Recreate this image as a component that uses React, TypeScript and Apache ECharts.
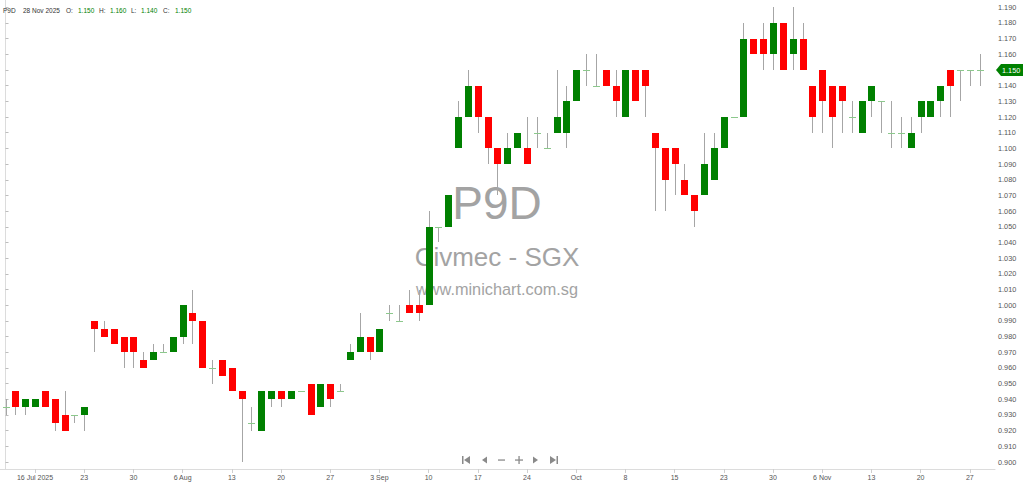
import React, { useEffect, useRef } from "react";
import * as echarts from "echarts";

// Trading days 11 Jul 2025 .. 28 Nov 2025 (SGX)
const dates: string[] = [
  "11 Jul", "14 Jul", "15 Jul", "16 Jul", "17 Jul", "18 Jul", "21 Jul", "22 Jul", "23 Jul", "24 Jul",
  "25 Jul", "28 Jul", "29 Jul", "30 Jul", "31 Jul", "1 Aug", "4 Aug", "5 Aug", "6 Aug", "7 Aug",
  "8 Aug", "11 Aug", "12 Aug", "13 Aug", "14 Aug", "15 Aug", "18 Aug", "19 Aug", "20 Aug", "21 Aug",
  "22 Aug", "25 Aug", "26 Aug", "27 Aug", "28 Aug", "29 Aug", "1 Sep", "2 Sep", "3 Sep", "4 Sep",
  "5 Sep", "8 Sep", "9 Sep", "10 Sep", "11 Sep", "12 Sep", "15 Sep", "16 Sep", "17 Sep", "18 Sep",
  "19 Sep", "22 Sep", "23 Sep", "24 Sep", "25 Sep", "26 Sep", "29 Sep", "30 Sep", "1 Oct", "2 Oct",
  "3 Oct", "6 Oct", "7 Oct", "8 Oct", "9 Oct", "10 Oct", "13 Oct", "14 Oct", "15 Oct", "16 Oct",
  "17 Oct", "21 Oct", "22 Oct", "23 Oct", "24 Oct", "27 Oct", "28 Oct", "29 Oct", "30 Oct", "31 Oct",
  "3 Nov", "4 Nov", "5 Nov", "6 Nov", "7 Nov", "10 Nov", "11 Nov", "12 Nov", "13 Nov", "14 Nov",
  "17 Nov", "18 Nov", "19 Nov", "20 Nov", "21 Nov", "24 Nov", "25 Nov", "26 Nov", "27 Nov", "28 Nov",
];

const opens: number[] = [
  0.935, 0.945, 0.935, 0.935, 0.945, 0.94, 0.93, 0.93, 0.93, 0.99,
  0.985, 0.985, 0.98, 0.98, 0.965, 0.965, 0.97, 0.97, 0.98, 0.995,
  0.99, 0.96, 0.965, 0.96, 0.945, 0.925, 0.92, 0.94, 0.945, 0.94,
  0.945, 0.95, 0.935, 0.95, 0.945, 0.965, 0.97, 0.98, 0.97, 0.995,
  0.99, 1.0, 1.0, 1.0, 1.05, 1.05, 1.1, 1.12, 1.14, 1.12,
  1.1, 1.09, 1.1, 1.1, 1.11, 1.1, 1.11, 1.11, 1.13, 1.15,
  1.14, 1.15, 1.14, 1.12, 1.15, 1.15, 1.11, 1.1, 1.1, 1.08,
  1.07, 1.07, 1.08, 1.1, 1.12, 1.12, 1.17, 1.17, 1.16, 1.18,
  1.16, 1.17, 1.14, 1.15, 1.14, 1.14, 1.12, 1.11, 1.13, 1.13,
  1.11, 1.11, 1.1, 1.12, 1.12, 1.13, 1.15, 1.15, 1.15, 1.15,
];
const closes: number[] = [
  0.935, 0.935, 0.94, 0.94, 0.935, 0.925, 0.92, 0.93, 0.935, 0.985,
  0.98, 0.975, 0.97, 0.97, 0.96, 0.97, 0.97, 0.98, 1.0, 0.99,
  0.96, 0.96, 0.955, 0.945, 0.94, 0.925, 0.945, 0.945, 0.94, 0.945,
  0.945, 0.93, 0.95, 0.94, 0.945, 0.97, 0.98, 0.97, 0.985, 0.995,
  0.99, 0.995, 0.995, 1.05, 1.05, 1.07, 1.12, 1.14, 1.12, 1.1,
  1.09, 1.1, 1.11, 1.09, 1.11, 1.1, 1.12, 1.13, 1.15, 1.15,
  1.14, 1.14, 1.13, 1.15, 1.13, 1.14, 1.1, 1.08, 1.09, 1.07,
  1.06, 1.09, 1.1, 1.12, 1.12, 1.17, 1.16, 1.16, 1.18, 1.15,
  1.17, 1.15, 1.12, 1.13, 1.12, 1.13, 1.12, 1.13, 1.14, 1.13,
  1.11, 1.11, 1.11, 1.13, 1.13, 1.14, 1.14, 1.15, 1.15, 1.15,
];
const lows: number[] = [
  0.93, 0.93, 0.93, 0.935, 0.935, 0.92, 0.92, 0.925, 0.92, 0.97,
  0.98, 0.975, 0.96, 0.96, 0.96, 0.965, 0.97, 0.97, 0.975, 0.975,
  0.96, 0.95, 0.955, 0.945, 0.9, 0.92, 0.92, 0.935, 0.935, 0.94,
  0.945, 0.93, 0.935, 0.935, 0.945, 0.965, 0.97, 0.965, 0.97, 0.99,
  0.99, 0.995, 0.99, 1.0, 1.04, 1.05, 1.1, 1.12, 1.11, 1.09,
  1.07, 1.09, 1.1, 1.09, 1.1, 1.1, 1.11, 1.1, 1.13, 1.14,
  1.14, 1.14, 1.12, 1.12, 1.13, 1.12, 1.06, 1.06, 1.07, 1.07,
  1.05, 1.07, 1.08, 1.1, 1.12, 1.12, 1.16, 1.15, 1.15, 1.15,
  1.15, 1.15, 1.11, 1.11, 1.1, 1.11, 1.11, 1.11, 1.12, 1.11,
  1.1, 1.1, 1.1, 1.11, 1.12, 1.12, 1.12, 1.13, 1.14, 1.14,
];
const highs: number[] = [
  0.94, 0.945, 0.94, 0.94, 0.945, 0.94, 0.945, 0.93, 0.935, 0.99,
  0.99, 0.985, 0.98, 0.98, 0.97, 0.975, 0.975, 0.98, 1.0, 1.01,
  0.99, 0.965, 0.965, 0.96, 0.945, 0.935, 0.945, 0.945, 0.945, 0.945,
  0.945, 0.95, 0.95, 0.95, 0.95, 0.975, 0.995, 0.98, 0.985, 1.0,
  1.0, 1.01, 1.01, 1.06, 1.05, 1.07, 1.13, 1.15, 1.14, 1.12,
  1.1, 1.11, 1.11, 1.12, 1.12, 1.11, 1.15, 1.14, 1.15, 1.16,
  1.16, 1.15, 1.15, 1.15, 1.15, 1.15, 1.11, 1.1, 1.1, 1.09,
  1.07, 1.11, 1.11, 1.12, 1.12, 1.18, 1.17, 1.18, 1.19, 1.18,
  1.19, 1.18, 1.14, 1.15, 1.14, 1.14, 1.13, 1.13, 1.14, 1.13,
  1.13, 1.12, 1.12, 1.13, 1.13, 1.14, 1.15, 1.15, 1.15, 1.16,
];

const yTicks: number[] = [
  0.9, 0.91, 0.92, 0.93, 0.94, 0.95, 0.96, 0.97, 0.98, 0.99,
  1.0, 1.01, 1.02, 1.03, 1.04, 1.05, 1.06, 1.07, 1.08, 1.09,
  1.1, 1.11, 1.12, 1.13, 1.14, 1.15, 1.16, 1.17, 1.18, 1.19,
];
const xTickIndex: number[] = [3, 8, 13, 18, 23, 28, 33, 38, 43, 48, 53, 58, 63, 68, 73, 78, 83, 88, 93, 98];
const xTickLabels: string[] = [
  "16 Jul 2025", "23", "30", "6 Aug", "13", "20", "27", "3 Sep", "10", "17",
  "24", "Oct", "8", "15", "23", "30", "6 Nov", "13", "20", "27",
];

const UP = "#008000";
const DOWN = "#ff0000";
const DOJI = "#8cc88c";
const WICK = "#a6a6a6";
const FONT = "Liberation Sans, Arial, sans-serif";

export default function App() {
  const ref = useRef<HTMLDivElement>(null);
  useEffect(() => {
    if (!ref.current) return;
    const chart = echarts.init(ref.current, undefined, { renderer: "svg" });
    const data = dates.map((_, i) => [i, opens[i], closes[i], lows[i], highs[i]]);
    const last = dates.length - 1;
    const lastClose = closes[last];
    // the last close is shown in the price tag, so its plain axis label is left out
    const yLabelValues = yTicks.filter((v) => Math.abs(v - lastClose) > 1e-9);
    const hdr = (text: string, x: number, color: string) => ({
      type: "text",
      x,
      y: 10,
      silent: true,
      z: 100,
      style: { text, fill: color, font: `6.5px ${FONT}`, textVerticalAlign: "middle", textAlign: "left" },
    });
    const navColor = "#8a8a8a";
    chart.setOption({
      animation: false,
      backgroundColor: "#ffffff",
      grid: { left: 0, right: 29, top: 0, bottom: 15, containLabel: false },
      xAxis: {
        type: "value",
        min: -0.559,
        max: 100.56,
        axisLine: { show: true, lineStyle: { color: "#dcdcdc", width: 1 } },
        axisTick: { show: true, length: 4, lineStyle: { color: "#cfcfcf" }, customValues: xTickIndex },
        axisLabel: {
          show: true,
          customValues: xTickIndex,
          formatter: (v: number) => {
            const k = xTickIndex.indexOf(Math.round(v));
            return k >= 0 ? xTickLabels[k] : "";
          },
          color: "#555555",
          fontSize: 7,
          fontFamily: FONT,
          margin: 5,
        },
        splitLine: { show: false },
      },
      yAxis: {
        type: "value",
        position: "right",
        min: 0.89554,
        max: 1.19466,
        axisLine: { show: true, lineStyle: { color: "#dcdcdc", width: 1 } },
        axisTick: { show: true, length: 3, lineStyle: { color: "#bdbdbd" }, customValues: yTicks },
        axisLabel: {
          show: true,
          customValues: yLabelValues,
          formatter: (v: number) => v.toFixed(3),
          color: "#555555",
          fontSize: 7.3,
          fontFamily: FONT,
          margin: 3,
        },
        splitLine: { show: false },
      },
      graphic: [
        {
          type: "text",
          x: 497,
          y: 203,
          silent: true,
          z: -10,
          style: { text: "P9D", fill: "#a3a3a3", font: `46px ${FONT}`, textAlign: "center", textVerticalAlign: "middle" },
        },
        {
          type: "text",
          x: 497,
          y: 257,
          silent: true,
          z: -10,
          style: { text: "Civmec - SGX", fill: "#a3a3a3", font: `26px ${FONT}`, textAlign: "center", textVerticalAlign: "middle" },
        },
        {
          type: "text",
          x: 497,
          y: 289,
          silent: true,
          z: -10,
          style: { text: "www.minichart.com.sg", fill: "#a3a3a3", font: `16.3px ${FONT}`, textAlign: "center", textVerticalAlign: "middle" },
        },
        hdr("P9D", 3, "#333333"),
        hdr("28 Nov 2025", 23, "#333333"),
        hdr("O:", 66, "#333333"),
        hdr(opens[last].toFixed(3), 78, UP),
        hdr("H:", 99, "#333333"),
        hdr(highs[last].toFixed(3), 110, UP),
        hdr("L:", 131, "#333333"),
        hdr(lows[last].toFixed(3), 141, UP),
        hdr("C:", 163, "#333333"),
        hdr(closes[last].toFixed(3), 175, UP),
        // navigation controls
        { type: "rect", silent: true, shape: { x: 462, y: 456, width: 1.5, height: 8 }, style: { fill: navColor } },
        { type: "polygon", silent: true, shape: { points: [[470, 456], [470, 464], [464, 460]] }, style: { fill: navColor } },
        { type: "polygon", silent: true, shape: { points: [[487, 456.5], [487, 463.5], [482, 460]] }, style: { fill: navColor } },
        { type: "rect", silent: true, shape: { x: 498, y: 459.4, width: 7, height: 1.3 }, style: { fill: navColor } },
        { type: "rect", silent: true, shape: { x: 515, y: 459.4, width: 8, height: 1.3 }, style: { fill: navColor } },
        { type: "rect", silent: true, shape: { x: 518.4, y: 456, width: 1.3, height: 8 }, style: { fill: navColor } },
        { type: "polygon", silent: true, shape: { points: [[533, 456.5], [533, 463.5], [538, 460]] }, style: { fill: navColor } },
        { type: "polygon", silent: true, shape: { points: [[550, 456], [550, 464], [556, 460]] }, style: { fill: navColor } },
        { type: "rect", silent: true, shape: { x: 556.5, y: 456, width: 1.5, height: 8 }, style: { fill: navColor } },
      ],
      series: [
        {
          type: "custom",
          clip: false,
          encode: { x: 0, y: [1, 2, 3, 4] },
          data,
          renderItem: (params: any, api: any) => {
            const i = api.value(0);
            const o = api.value(1);
            const c = api.value(2);
            const l = api.value(3);
            const h = api.value(4);
            const pH = api.coord([i, h]);
            const pL = api.coord([i, l]);
            const pO = api.coord([i, o]);
            const pC = api.coord([i, c]);
            const cx = Math.round(pH[0]) + 0.5;
            const bw = 7;
            const children: any[] = [];
            if (Math.abs(pH[1] - pL[1]) > 0.5) {
              children.push({
                type: "line",
                shape: { x1: cx, y1: Math.round(pH[1]), x2: cx, y2: Math.round(pL[1]) },
                style: { stroke: WICK, lineWidth: 1 },
              });
            }
            if (o === c) {
              const y = Math.round(pO[1]) + 0.5;
              children.push({
                type: "line",
                shape: { x1: cx - bw / 2, y1: y, x2: cx + bw / 2, y2: y },
                style: { stroke: DOJI, lineWidth: 1 },
              });
            } else {
              const top = Math.round(Math.min(pO[1], pC[1]));
              const bot = Math.round(Math.max(pO[1], pC[1]));
              children.push({
                type: "rect",
                shape: { x: cx - bw / 2, y: top, width: bw, height: bot - top },
                style: { fill: c > o ? UP : DOWN },
              });
            }
            if (params.dataIndex === last) {
              const x0 = params.coordSys.x + params.coordSys.width;
              const y = pC[1];
              children.push({
                type: "polygon",
                shape: {
                  points: [[x0 + 1, y], [x0 + 6, y - 6], [x0 + 28, y - 6], [x0 + 28, y + 6], [x0 + 6, y + 6]],
                },
                style: { fill: UP },
              });
              children.push({
                type: "text",
                x: x0 + 7,
                y,
                style: { text: c.toFixed(3), fill: "#ffffff", font: `7.3px ${FONT}`, textVerticalAlign: "middle", textAlign: "left" },
              });
            }
            return { type: "group", children };
          },
        },
      ],
    });
    return () => chart.dispose();
  }, []);
  return <div ref={ref} style={{ position: "fixed", left: 0, top: 0, width: 1024, height: 484 }} />;
}
